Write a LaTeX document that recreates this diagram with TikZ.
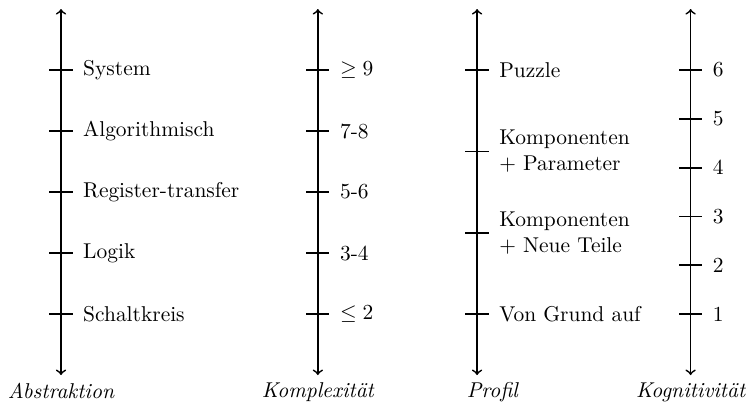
\documentclass[tikz,border=0pt]{standalone}
\usepackage{amsmath, amssymb}
\usetikzlibrary{positioning}

\begin{document}
\begin{tikzpicture}[
        % Achsen und Markierungen
        axis/.style={<->, thick},
        mark line/.style={thick},
        % Beschriftungen
        lbl/.style={anchor=west, align=left},
        title/.style={below, font=\itshape}
    ]
    \useasboundingbox (-1,-1.475) rectangle (11.31,5.148);

    % -- Achsen --
    \coordinate (absbot) at (0,-1);     \coordinate (abstop) at (0,5);
    \coordinate (kombot) at (4.21,-1);  \coordinate (komtop) at (4.21,5);
    \coordinate (probot) at (6.82,-1);  \coordinate (protop) at (6.82,5);
    \coordinate (kogbot) at (10.32,-1); \coordinate (kogtop) at (10.32,5);

    \draw[axis] (absbot) -- (abstop);
    \draw[axis] (kombot) -- (komtop);
    \draw[axis] (probot) -- (protop);
    \draw[axis] (kogbot) -- (kogtop);

    \node[title] (abs) at (absbot) {Abstraktion};
    \node[title] (kom) at (kombot) {Komplexität};
    \node[title, xshift=0.25cm] (pro) at (probot) {Profil};
    \node[title] (kog) at (kogbot) {Kognitivität};

    % -- Abstraktion --
    \foreach \y/\t [count=\i] in {0/Schaltkreis, 1/Logik, 2/Register-transfer, 3/Algorithmisch, 4/System} {
        \draw[mark line] (-0.19,\y) -- (0.19,\y);
        \node[lbl] (abs\i) at (0.24,\y) {\t};
    }

    % -- Komplexität --
    \foreach \y/\t [count=\i] in {0/$\leq 2$, 1/3-4, 2/5-6, 3/7-8, 4/$\geq 9$} {
        \draw[mark line] (4.02,\y) -- (4.40,\y);
        \node[lbl] (kom\i) at (4.45,\y) {\t};
    }

    % -- Profil --
    \foreach \y/\t [count=\i] in {0/Von Grund auf, 1.3333/Komponenten\\$+$ Neue Teile, 2.6667/Komponenten\\$+$ Parameter, 4/Puzzle} {
        \draw[mark line] (6.63,\y) -- (7.01,\y);
        \node[lbl] (pro\i) at (7.06,\y) {\t};
    }

    % -- Kognitivität --
    \foreach \y [count=\i] in {0, 0.8, 1.6, 2.4, 3.2, 4} {
        \draw[mark line] (10.13,\y) -- (10.51,\y);
        \node[lbl] (kog\i) at (10.56,\y) {\i};
    }

\end{tikzpicture}
\end{document}
